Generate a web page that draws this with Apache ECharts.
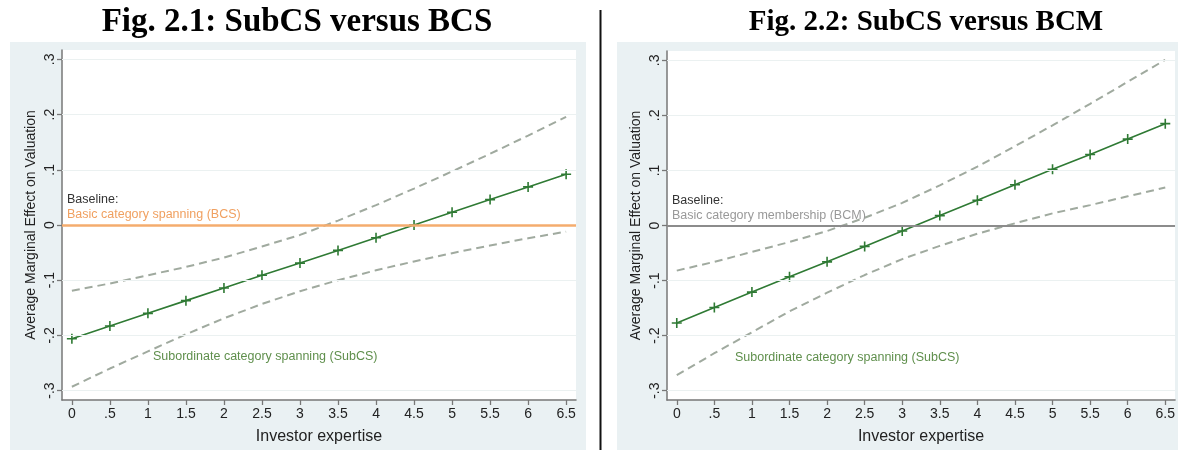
<!DOCTYPE html>
<html>
<head>
<meta charset="utf-8">
<script src="https://cdn.jsdelivr.net/npm/echarts@6/dist/echarts.min.js"></script>
<style>html,body{margin:0;padding:0;background:#fff}#c{width:1178px;height:450px}</style>
</head>
<body>
<div id="c"></div>
<script>
// ---- data ----
const xValues = [0, 0.5, 1, 1.5, 2, 2.5, 3, 3.5, 4, 4.5, 5, 5.5, 6, 6.5];
const xTickLabels = ['0', '.5', '1', '1.5', '2', '2.5', '3', '3.5', '4', '4.5', '5', '5.5', '6', '6.5'];
const yTicks = [-0.3, -0.2, -0.1, 0, 0.1, 0.2, 0.3];
const yTickLabels = ['-.3', '-.2', '-.1', '0', '.1', '.2', '.3'];

// Fig 2.1 SubCS vs BCS
const bcsMean  = [-0.206, -0.183, -0.160, -0.137, -0.114, -0.091, -0.069, -0.046, -0.023, 0.000, 0.023, 0.046, 0.069, 0.092];
const bcsUpper = [-0.119, -0.106, -0.091, -0.076, -0.059, -0.039, -0.018, 0.008, 0.036, 0.066, 0.097, 0.129, 0.162, 0.196];
const bcsLower = [-0.293, -0.260, -0.229, -0.198, -0.169, -0.143, -0.120, -0.100, -0.082, -0.066, -0.051, -0.037, -0.024, -0.012];
// Fig 2.2 SubCS vs BCM
const bcmMean  = [-0.177, -0.149, -0.121, -0.093, -0.066, -0.038, -0.010, 0.018, 0.046, 0.074, 0.102, 0.129, 0.157, 0.185];
const bcmUpper = [-0.082, -0.066, -0.048, -0.030, -0.010, 0.014, 0.041, 0.073, 0.107, 0.144, 0.182, 0.221, 0.261, 0.301];
const bcmLower = [-0.272, -0.232, -0.194, -0.156, -0.122, -0.090, -0.061, -0.037, -0.015, 0.004, 0.022, 0.037, 0.053, 0.069];
const baselineValue = 0;

const titles = ['Fig. 2.1: SubCS versus BCS', 'Fig. 2.2: SubCS versus BCM'];
const xName = 'Investor expertise';
const yName = 'Average Marginal Effect on Valuation';

// ---- styles ----
const FONT = 'Liberation Sans, Arial, sans-serif';
const green = '#2f7a34';
const ciColor = '#a0aa9f';
const plus = 'path://M4.2,0L5.8,0L5.8,4.2L10,4.2L10,5.8L5.8,5.8L5.8,10L4.2,10L4.2,5.8L0,5.8L0,4.2L4.2,4.2Z';

function pairs(ys) { return xValues.map((x, i) => [x, ys[i]]); }

function makeX(gi) {
  return {
    gridIndex: gi, type: 'value', min: -0.13, max: 6.63,
    name: xName, nameLocation: 'middle', nameGap: 29,
    nameTextStyle: { fontFamily: FONT, fontSize: 16, color: '#222' },
    axisLine: { show: true, onZero: false, lineStyle: { color: '#777', width: 1.5 } },
    axisTick: { show: true, customValues: xValues, length: 5, lineStyle: { color: '#777', width: 1.3 } },
    axisLabel: { customValues: xValues, margin: 7, fontFamily: FONT, fontSize: 14, color: '#222',
      formatter: v => { const i = xValues.findIndex(t => Math.abs(t - v) < 1e-6); return i >= 0 ? xTickLabels[i] : ''; } },
    splitLine: { show: false }
  };
}
function makeY(gi) {
  return {
    gridIndex: gi, type: 'value', min: -0.317, max: 0.317,
    name: yName, nameLocation: 'middle', nameGap: 24,
    nameTextStyle: { fontFamily: FONT, fontSize: 14, color: '#222' },
    axisLine: { show: true, onZero: false, lineStyle: { color: '#777', width: 1.5 } },
    axisTick: { show: true, customValues: yTicks, length: 5, lineStyle: { color: '#777', width: 1.3 } },
    axisLabel: { customValues: yTicks, rotate: 90, margin: 5, fontFamily: FONT, fontSize: 14, color: '#222',
      formatter: v => { const i = yTicks.findIndex(t => Math.abs(t - v) < 1e-6); return i >= 0 ? yTickLabels[i] : ''; } },
    splitLine: { show: false }
  };
}

function panelSeries(gi, mean, upper, lower, baseColor, baseWidth) {
  return [
    { type: 'line', xAxisIndex: gi, yAxisIndex: gi, data: [], silent: true, z: 1,
      markLine: { silent: true, symbol: 'none', animation: false, label: { show: false },
        lineStyle: { color: '#ebf1f1', width: 1.2, type: 'solid' },
        data: yTicks.map(v => ({ yAxis: v })) } },
    { type: 'line', xAxisIndex: gi, yAxisIndex: gi, data: [], silent: true, z: 2,
      markLine: { silent: true, symbol: 'none', animation: false, label: { show: false },
        lineStyle: { color: baseColor, width: baseWidth, type: 'solid' },
        data: [{ yAxis: baselineValue }] } },
    { type: 'line', xAxisIndex: gi, yAxisIndex: gi, data: pairs(upper), showSymbol: false, symbol: 'none',
      lineStyle: { color: ciColor, width: 2, type: [8, 5] }, z: 3, animation: false },
    { type: 'line', xAxisIndex: gi, yAxisIndex: gi, data: pairs(lower), showSymbol: false, symbol: 'none',
      lineStyle: { color: ciColor, width: 2, type: [8, 5] }, z: 3, animation: false },
    { type: 'line', xAxisIndex: gi, yAxisIndex: gi, data: pairs(mean), symbol: plus, symbolSize: 10, showSymbol: true,
      itemStyle: { color: green }, lineStyle: { color: green, width: 1.6 }, z: 4, animation: false }
  ];
}

const chart = echarts.init(document.getElementById('c'), null, { renderer: 'canvas' });
chart.setOption({
  backgroundColor: '#ffffff',
  animation: false,
  grid: [
    { left: 62, top: 50, width: 514, height: 351, show: true, backgroundColor: '#ffffff', borderWidth: 0 },
    { left: 667, top: 51, width: 514, height: 352, show: true, backgroundColor: '#ffffff', borderWidth: 0 }
  ],
  xAxis: [makeX(0), makeX(1)],
  yAxis: [makeY(0), makeY(1)],
  series: [
    ...panelSeries(0, bcsMean, bcsUpper, bcsLower, '#f4ac6e', 2.6),
    ...panelSeries(1, bcmMean, bcmUpper, bcmLower, '#8c8c8c', 2)
  ],
  graphic: [
    { type: 'rect', z: -10, silent: true, shape: { x: 10, y: 42, width: 576, height: 408 }, style: { fill: '#eaf1f3' } },
    { type: 'rect', z: -10, silent: true, shape: { x: 617, y: 42, width: 561, height: 408 }, style: { fill: '#eaf1f3' } },
    { type: 'line', z: 10, silent: true, shape: { x1: 600.5, y1: 10, x2: 600.5, y2: 450 }, style: { stroke: '#111', lineWidth: 2 } },
    { type: 'text', z: 10, silent: true, x: 297, y: 22, style: { text: titles[0], font: 'bold 33px "Liberation Serif", "Times New Roman", serif', fill: '#000', align: 'center', verticalAlign: 'middle' } },
    { type: 'text', z: 10, silent: true, x: 926, y: 23, style: { text: titles[1], font: 'bold 29px "Liberation Serif", "Times New Roman", serif', fill: '#000', align: 'center', verticalAlign: 'middle' } },
    { type: 'text', z: 10, silent: true, x: 67, y: 200, style: { text: 'Baseline:', font: '12.5px ' + FONT, fill: '#333', verticalAlign: 'middle' } },
    { type: 'text', z: 10, silent: true, x: 67, y: 215, style: { text: 'Basic category spanning (BCS)', font: '12.5px ' + FONT, fill: '#f0a060', verticalAlign: 'middle' } },
    { type: 'text', z: 10, silent: true, x: 153, y: 357, style: { text: 'Subordinate category spanning (SubCS)', font: '12.5px ' + FONT, fill: '#5f8f4c', verticalAlign: 'middle' } },
    { type: 'text', z: 10, silent: true, x: 672, y: 201, style: { text: 'Baseline:', font: '12.5px ' + FONT, fill: '#333', verticalAlign: 'middle' } },
    { type: 'text', z: 10, silent: true, x: 672, y: 216, style: { text: 'Basic category membership (BCM)', font: '12.5px ' + FONT, fill: '#999', verticalAlign: 'middle' } },
    { type: 'text', z: 10, silent: true, x: 735, y: 358, style: { text: 'Subordinate category spanning (SubCS)', font: '12.5px ' + FONT, fill: '#5f8f4c', verticalAlign: 'middle' } }
  ]
});
</script>
</body>
</html>
